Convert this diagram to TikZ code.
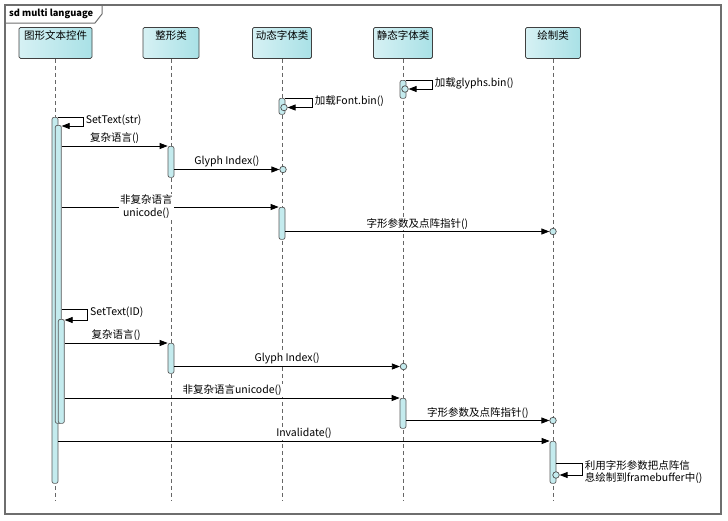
\documentclass[tikz,border=0pt]{standalone}
\usepackage{fontspec}
\setmainfont{Noto Sans CJK SC}
\usetikzlibrary{arrows.meta,calc}
\definecolor{headleft}{HTML}{D6F1F4}
\definecolor{headright}{HTML}{A9E1E6}
\definecolor{barfill}{HTML}{C4EBEE}
\definecolor{framegray}{HTML}{6E6E6E}

\begin{document}
\begin{tikzpicture}[x=1pt, y=-1pt, font=\fontsize{10.5}{12}\selectfont,
    head/.style={draw=black!75, line width=.8pt, rounded corners=1.5pt, left color=headleft, right color=headright,
        minimum height=31pt, inner ysep=3pt, text height=9pt, text depth=16pt, anchor=north},
    life/.style={draw=black!60, line width=.8pt, dash pattern=on 4pt off 3pt},
    actbar/.style={draw=black!65, fill=barfill, line width=.7pt, rounded corners=2pt, minimum width=6pt, inner sep=0pt, anchor=north},
    endpt/.style={circle, draw=black!70, fill=barfill, line width=.7pt, minimum size=6.5pt, inner sep=0pt},
    msg/.style={draw=black, line width=.8pt, -{Triangle[length=8pt,width=6pt]}},
    lbl/.style={fill=white, inner sep=1pt},
    selflbl/.style={right, yshift=-3pt, inner sep=2pt}]

    \useasboundingbox (0,0) rectangle (728,520);

    % frame
    \draw[framegray, line width=1.4pt] (5,5) rectangle (721,514);
    \node[anchor=west, inner sep=0pt, font=\bfseries\fontsize{9.3}{11}\selectfont] (title) at (9,14) {sd multi language};
    \draw[framegray, line width=1pt] (5,23) -- (95,23) -- (102,14) -- (102,5);

    % lifelines
    \node[head, minimum width=73pt] (ctl) at (55.5,27) {图形文本控件};
    \node[head, minimum width=56pt] (int) at (171,27) {整形类};
    \node[head, minimum width=56pt] (dyn) at (282,27) {动态字体类};
    \node[head, minimum width=55pt] (sta) at (403,27) {静态字体类};
    \node[head, minimum width=55pt] (drw) at (553,27) {绘制类};

    \coordinate (bottom) at (0,501);
    \foreach \n in {ctl,int,dyn,sta,drw}
        \draw[life] (\n.south) -- (\n.south |- bottom);

    % activations
    \node[actbar, minimum height=366pt] (bA) at (55,117) {};
    \node[actbar, minimum height=298pt] (bB) at (58.3,125) {};
    \node[actbar, minimum height=104pt] (bC) at (61.3,319) {};
    \node[actbar, minimum height=31pt] (iA) at (171,146) {};
    \node[actbar, minimum height=30pt] (iB) at (171,343) {};
    \node[actbar, minimum height=16pt] (dS) at (282,98) {};
    \node[actbar, minimum height=32pt] (dA) at (282,207) {};
    \node[actbar, minimum height=18pt] (sS) at (403,80) {};
    \node[actbar, minimum height=30pt] (sA) at (403,398) {};
    \node[actbar, minimum height=42pt] (wA) at (553,441) {};

    \node[endpt] (dG) at (284,107.5) {};
    \node[endpt] (sG) at (405,89) {};
    \node[endpt] (dI) at (283,169.5) {};
    \node[endpt] (sI) at (403.5,366.5) {};
    \node[endpt] (wP) at (553,231.5) {};
    \node[endpt] (wQ) at (553,420.5) {};
    \node[endpt] (wS) at (556,475) {};

    % loading
    \draw[msg] (dS.north east) -- ++(27,0) node[selflbl] {加载Font.bin()} |- (dG.east);
    \draw[msg] (sS.north east) -- ++(26,0) node[selflbl] {加载glyphs.bin()} |- (sG.east);

    % SetText(str)
    \draw[msg] (bA.north east) -- ++(25,0) node[selflbl] {SetText(str)} |- (bB.east |- 0,126);
    \draw[msg] (bB.east |- iA.north) -- node[lbl, above=1pt] {复杂语言()} (iA.north west);
    \draw[msg] (iA.east |- dI) -- node[lbl, above=1pt] {Glyph Index()} (dI.west);
    \draw[msg] (bB.east |- dA.north) -- node[lbl, pos=.39, align=center] {非复杂语言\\[1pt]unicode()} (dA.north west);
    \draw[msg] (dA.east |- wP) -- node[lbl, above=1pt] {字形参数及点阵指针()} (wP.west);

    % SetText(ID)
    \draw[msg] (bB.east |- 0,309) -- ++(26,0) node[selflbl] {SetText(ID)} |- (bC.east |- 0,320);
    \draw[msg] (bC.east |- iB.north) -- node[lbl, above=1pt] {复杂语言()} (iB.north west);
    \draw[msg] (iB.east |- sI) -- node[lbl, above=1pt] {Glyph Index()} (sI.west);
    \draw[msg] (bC.east |- sA.north) -- node[lbl, above=1pt] {非复杂语言unicode()} (sA.north west);
    \draw[msg] (sA.east |- wQ) -- node[lbl, above=1pt] {字形参数及点阵指针()} (wQ.west);

    % draw
    \draw[msg] (bA.east |- wA.north) -- node[lbl, above=1pt] {Invalidate()} (wA.north west);
    \draw[msg] (wA.east |- 0,463) -- ++(26,0) node[right, yshift=-9.5pt, inner sep=2pt, align=left] {利用字形参数把点阵信\\息绘制到framebuffer中()} |- (wS.east);

\end{tikzpicture}
\end{document}
